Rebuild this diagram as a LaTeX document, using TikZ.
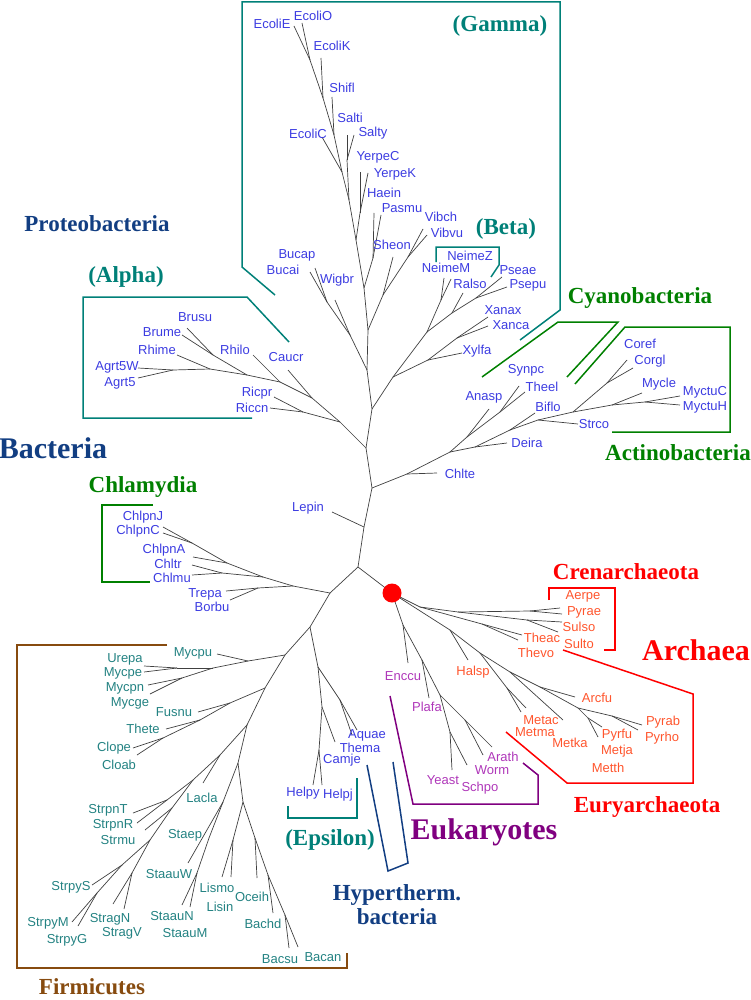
\documentclass[tikz,border=0pt]{standalone}
\usepackage{fontspec}
\setmainfont{Liberation Serif}
\newfontfamily\leaffont{Liberation Sans}
\definecolor{bactblue}{RGB}{60,60,225}
\definecolor{firmteal}{RGB}{35,130,130}
\definecolor{archred}{RGB}{255,85,45}
\definecolor{eukpurple}{RGB}{175,55,185}
\definecolor{navy}{RGB}{18,62,130}
\definecolor{tealgrp}{RGB}{0,128,120}
\definecolor{greengrp}{RGB}{0,128,0}
\definecolor{redgrp}{RGB}{255,0,0}
\definecolor{purplegrp}{RGB}{128,0,128}
\definecolor{browngrp}{RGB}{135,75,15}
\tikzset{
  leaf/.style={font=\leaffont\fontsize{13}{13}\selectfont,inner sep=0pt,text=bactblue},
  firm/.style={leaf,text=firmteal},
  arch/.style={leaf,text=archred},
  euk/.style={leaf,text=eukpurple},
  group/.style={font=\bfseries\fontsize{23}{24}\selectfont,inner sep=0pt,align=center},
  kingdom/.style={font=\bfseries\fontsize{30}{30}\selectfont,inner sep=0pt},
  bracket/.style={line width=1.5pt},
  branch/.style={draw=black!75,line width=0.7pt}
}
\begin{document}
\begin{tikzpicture}[x=1pt,y=-1pt]
  \useasboundingbox (0,0) rectangle (751,1000);
  % inner points of the tree
  \path
    (392,593) coordinate (root)
    (358,567) coordinate (b1)  (364,527) coordinate (b2)  (372,488) coordinate (b3)
    (366,448) coordinate (b4)  (372,409) coordinate (b5)  (367,370) coordinate (b6)
    (368,330) coordinate (b7)  (364,288) coordinate (b8)
    % gamma
    (356,240) coordinate (gA)  (349,200) coordinate (gB)  (342,172) coordinate (gC)
    (334,135) coordinate (gD)  (323,98) coordinate (gE)   (310,60) coordinate (gF)
    (347,160) coordinate (gS)  (360,213) coordinate (gY)  (373,258) coordinate (gH)
    (383,295) coordinate (gV)  (408,257) coordinate (gW)  (350,335) coordinate (bW)
    (327,302) coordinate (bB)
    % beta, xanthomonads
    (393,377) coordinate (bx0) (428,360) coordinate (bx1) (457,338) coordinate (xX)
    (427,332) coordinate (bb0) (441,300) coordinate (bN)  (452,313) coordinate (bb2)
    (476,298) coordinate (bP)
    % cyano, actino
    (407,474) coordinate (c0)  (450,452) coordinate (c1)  (467,437) coordinate (cyA)
    (500,412) coordinate (cyS) (475,447) coordinate (c2)  (510,430) coordinate (c3)
    (538,420) coordinate (a0)  (573,412) coordinate (a1)  (607,383) coordinate (aC)
    (612,405) coordinate (a2)  (645,402) coordinate (a3)
    % alpha
    (340,422) coordinate (al0) (303,412) coordinate (alR) (312,398) coordinate (al1)
    (280,382) coordinate (al2) (247,375) coordinate (al3) (213,355) coordinate (alB)
    (210,369) coordinate (al4) (173,370) coordinate (alA)
    % chlamydia, spirochetes
    (330,593) coordinate (ch0) (293,586) coordinate (ch1) (258,588) coordinate (sp)
    (263,577) coordinate (ch2) (227,563) coordinate (ch3) (192,543) coordinate (chP)
    (222,573) coordinate (chT)
    % epsilon, hyperthermophiles
    (310,627) coordinate (f0)  (318,667) coordinate (e0)  (322,707) coordinate (eH)
    (340,700) coordinate (eA)  (319,750) coordinate (eP)
    % firmicutes
    (285,655) coordinate (f1)  (248,661) coordinate (m0)  (213,668) coordinate (m1)
    (177,668) coordinate (mU)  (182,678) coordinate (mG)  (265,688) coordinate (f2)
    (230,703) coordinate (cl0) (200,720) coordinate (cl1) (163,738) coordinate (cl2)
    (247,725) coordinate (f3)  (220,755) coordinate (lc0) (193,780) coordinate (lc1)
    (167,800) coordinate (st1) (172,808) coordinate (st2) (150,840) coordinate (st3)
    (132,873) coordinate (sA)  (122,865) coordinate (sP)  (97,893) coordinate (sPG)
    (238,763) coordinate (bc0) (223,802) coordinate (sa0) (209,838) coordinate (sa1)
    (197,873) coordinate (sa2) (243,802) coordinate (li0) (233,840) coordinate (lis)
    (255,838) coordinate (ba0) (268,875) coordinate (ba1) (285,915) coordinate (ba2)
    % archaea, eukaryotes
    (420,607) coordinate (ar0) (458,612) coordinate (cr0) (482,624) coordinate (th0)
    (530,611) coordinate (cr1) (527,620) coordinate (cr2)
    (450,630) coordinate (eu0) (480,653) coordinate (eu1) (507,688) coordinate (mS)
    (510,672) coordinate (eu2) (540,687) coordinate (eu3) (578,708) coordinate (eu4)
    (612,716) coordinate (pY)  (588,718) coordinate (eu5)
    (403,625) coordinate (ek0) (422,660) coordinate (ek1) (440,695) coordinate (ek2)
    (450,732) coordinate (ekF) (465,720) coordinate (ekP);
  % branch tips
  \path
    (294,26) coordinate (tEcoliE) (302,23) coordinate (tEcoliO) (321,58) coordinate (tEcoliK)
    (332,97) coordinate (tShifl)  (347,135) coordinate (tSalti) (354,135) coordinate (tSalty)
    (322,137) coordinate (tEcoliC) (360,172) coordinate (tYerpeC) (368,173) coordinate (tYerpeK)
    (374,213) coordinate (tHaein) (381,215) coordinate (tPasmu) (393,257) coordinate (tSheon)
    (423,229) coordinate (tVibch) (427,235) coordinate (tVibvu) (315,268) coordinate (tBucap)
    (310,272) coordinate (tBucai) (335,300) coordinate (tWigbr)
    (462,353) coordinate (tXylfa) (488,317) coordinate (tXanax) (488,326) coordinate (tXanca)
    (444,278) coordinate (tNeimeM) (451,279) coordinate (tNeimeZ) (463,293) coordinate (tRalso)
    (502,277) coordinate (tPseae) (507,287) coordinate (tPsepu)
    (437,473) coordinate (tChlte) (489,409) coordinate (tAnasp) (519,386) coordinate (tSynpc)
    (525,392) coordinate (tTheel) (507,443) coordinate (tDeira) (535,413) coordinate (tBiflo)
    (578,424) coordinate (tStrco) (627,360) coordinate (tCoref) (633,368) coordinate (tCorgl)
    (642,393) coordinate (tMycle) (680,396) coordinate (tMyctuC) (680,405) coordinate (tMyctuH)
    (274,397) coordinate (tRicpr) (270,408) coordinate (tRiccn) (288,370) coordinate (tCaucr)
    (253,355) coordinate (tRhilo) (187,328) coordinate (tBrusu) (182,335) coordinate (tBrume)
    (177,355) coordinate (tRhime) (138,368) coordinate (tAgrtW) (138,378) coordinate (tAgrt)
    (332,512) coordinate (tLepin)
    (226,591) coordinate (tTrepa) (230,600) coordinate (tBorbu) (193,557) coordinate (tChlpnA)
    (163,527) coordinate (tChlpnJ) (163,533) coordinate (tChlpnC) (192,565) coordinate (tChltr)
    (192,575) coordinate (tChlmu)
    (357,730) coordinate (tAquae) (352,735) coordinate (tThema) (335,742) coordinate (tCamje)
    (313,785) coordinate (tHelpy) (322,785) coordinate (tHelpj)
    (217,654) coordinate (tMycpu) (144,666) coordinate (tUrepa) (144,672) coordinate (tMycpe)
    (148,685) coordinate (tMycpn) (150,694) coordinate (tMycge)
    (198,712) coordinate (tFusnu) (166,729) coordinate (tThete) (133,748) coordinate (tClope)
    (137,755) coordinate (tCloab) (203,783) coordinate (tLacla)
    (133,813) coordinate (tStrpnT) (137,823) coordinate (tStrpnR) (145,830) coordinate (tStrmu)
    (113,904) coordinate (tStragN) (124,909) coordinate (tStragV) (92,885) coordinate (tStrpyS)
    (72,922) coordinate (tStrpyM) (78,926) coordinate (tStrpyG)
    (188,863) coordinate (tStaauW) (182,905) coordinate (tStaauN)
    (190,907) coordinate (tStaauM) (222,877) coordinate (tLismo) (231,877) coordinate (tLisin)
    (257,878) coordinate (tOceih) (273,913) coordinate (tBachd) (289,948) coordinate (tBacsu)
    (298,947) coordinate (tBacan)
    (560,608) coordinate (tAerpe) (562,614) coordinate (tPyrae) (562,622) coordinate (tSulso)
    (558,632) coordinate (tSulto) (522,635) coordinate (tTheac) (518,640) coordinate (tThevo)
    (468,660) coordinate (tHalsp) (526,708) coordinate (tMetac) (521,712) coordinate (tMetma)
    (563,720) coordinate (tMetka) (575,697) coordinate (tArcfu) (642,725) coordinate (tPyrab)
    (638,730) coordinate (tPyrho) (602,727) coordinate (tPyrfu) (598,737) coordinate (tMetja)
    (408,663) coordinate (tEnccu) (429,698) coordinate (tPlafa) (452,770) coordinate (tYeast)
    (467,765) coordinate (tSchpo) (483,755) coordinate (tWorm) (492,747) coordinate (tArath);
  \begin{scope}[branch]
    \draw (root) to (b1);   \draw (b1) to (b2);   \draw (b2) to (b3);   \draw (b3) to (b4);
    \draw (b4) to (b5);     \draw (b5) to (b6);   \draw (b6) to (b7);   \draw (b7) to (b8);
    \draw (b2) to (tLepin); \draw (b1) to (ch0);
    \draw (b8) to (gH);     \draw (b8) to (gA);   \draw (gA) to (gY);   \draw (gA) to (gB);
    \draw (gB) to (gS);     \draw (gB) to (gC);   \draw (gC) to (tEcoliC); \draw (gC) to (gD);
    \draw (gD) to (tShifl); \draw (gD) to (gE);   \draw (gE) to (tEcoliK); \draw (gE) to (gF);
    \draw (gF) to (tEcoliE); \draw (gF) to (tEcoliO);
    \draw (gS) to (tSalti); \draw (gS) to (tSalty);
    \draw (gY) to (tYerpeC); \draw (gY) to (tYerpeK);
    \draw (gH) to (tHaein); \draw (gH) to (tPasmu);
    \draw (b7) to (gV);     \draw (gV) to (tSheon); \draw (gV) to (gW);
    \draw (gW) to (tVibch); \draw (gW) to (tVibvu);
    \draw (b6) to (bW);     \draw (bW) to (bB);   \draw (bW) to (tWigbr);
    \draw (bB) to (tBucai); \draw (bB) to (tBucap);
    \draw (b5) to (bx0);    \draw (bx0) to (bx1); \draw (bx0) to (bb0);
    \draw (bx1) to (tXylfa); \draw (bx1) to (xX); \draw (xX) to (tXanax); \draw (xX) to (tXanca);
    \draw (bb0) to (bN);    \draw (bb0) to (bb2); \draw (bN) to (tNeimeM); \draw (bN) to (tNeimeZ);
    \draw (bb2) to (tRalso); \draw (bb2) to (bP); \draw (bP) to (tPseae); \draw (bP) to (tPsepu);
    \draw (b3) to (c0);     \draw (c0) to (tChlte); \draw (c0) to (c1);
    \draw (c1) to (cyA);    \draw (cyA) to (tAnasp); \draw (cyA) to (cyS);
    \draw (cyS) to (tSynpc); \draw (cyS) to (tTheel);
    \draw (c1) to (c2);     \draw (c2) to (tDeira); \draw (c2) to (c3);
    \draw (c3) to (tBiflo); \draw (c3) to (a0);   \draw (a0) to (tStrco); \draw (a0) to (a1);
    \draw (a1) to (aC);     \draw (aC) to (tCoref); \draw (aC) to (tCorgl);
    \draw (a1) to (a2);     \draw (a2) to (tMycle); \draw (a2) to (a3);
    \draw (a3) to (tMyctuC); \draw (a3) to (tMyctuH);
    \draw (b4) to (al0);    \draw (al0) to (alR); \draw (al0) to (al1);
    \draw (alR) to (tRicpr); \draw (alR) to (tRiccn);
    \draw (al1) to (tCaucr); \draw (al1) to (al2); \draw (al2) to (tRhilo); \draw (al2) to (al3);
    \draw (al3) to (alB);   \draw (al3) to (al4); \draw (alB) to (tBrusu); \draw (alB) to (tBrume);
    \draw (al4) to (tRhime); \draw (al4) to (alA); \draw (alA) to (tAgrtW); \draw (alA) to (tAgrt);
    \draw (ch0) to (ch1);   \draw (ch1) to (sp);  \draw (ch1) to (ch2);
    \draw (sp) to (tTrepa); \draw (sp) to (tBorbu);
    \draw (ch2) to (ch3);   \draw (ch2) to (chT); \draw (ch3) to (chP); \draw (ch3) to (tChlpnA);
    \draw (chP) to (tChlpnJ); \draw (chP) to (tChlpnC);
    \draw (chT) to (tChltr); \draw (chT) to (tChlmu);
    \draw (ch0) to (f0);    \draw (f0) to (f1);   \draw (f0) to (e0);
    \draw (e0) to (eH);     \draw (e0) to (eA);   \draw (eA) to (tAquae); \draw (eA) to (tThema);
    \draw (eH) to (tCamje); \draw (eH) to (eP);   \draw (eP) to (tHelpy); \draw (eP) to (tHelpj);
    \draw (f1) to (m0);     \draw (m0) to (tMycpu); \draw (m0) to (m1);
    \draw (m1) to (mU);     \draw (m1) to (mG);
    \draw (mU) to (tUrepa); \draw (mU) to (tMycpe); \draw (mG) to (tMycpn); \draw (mG) to (tMycge);
    \draw (f1) to (f2);     \draw (f2) to (cl0);  \draw (cl0) to (tFusnu); \draw (cl0) to (cl1);
    \draw (cl1) to (tThete); \draw (cl1) to (cl2); \draw (cl2) to (tClope); \draw (cl2) to (tCloab);
    \draw (f2) to (f3);     \draw (f3) to (lc0);  \draw (lc0) to (tLacla); \draw (lc0) to (lc1);
    \draw (lc1) to (st1);   \draw (st1) to (tStrpnT); \draw (st1) to (tStrpnR);
    \draw (lc1) to (st2);   \draw (st2) to (tStrmu); \draw (st2) to (st3);
    \draw (st3) to (sA);    \draw (sA) to (tStragN); \draw (sA) to (tStragV);
    \draw (st3) to (sP);    \draw (sP) to (tStrpyS); \draw (sP) to (sPG);
    \draw (sPG) to (tStrpyM); \draw (sPG) to (tStrpyG);
    \draw (f3) to (bc0);    \draw (bc0) to (sa0); \draw (sa0) to (tStaauW); \draw (sa0) to (sa1);
    \draw (sa1) to (sa2);   \draw (sa2) to (tStaauN); \draw (sa2) to (tStaauM);
    \draw (bc0) to (li0);   \draw (li0) to (lis); \draw (lis) to (tLismo); \draw (lis) to (tLisin);
    \draw (li0) to (ba0);   \draw (ba0) to (tOceih); \draw (ba0) to (ba1);
    \draw (ba1) to (tBachd); \draw (ba1) to (ba2); \draw (ba2) to (tBacsu); \draw (ba2) to (tBacan);
    \draw (root) to (ar0);  \draw (ar0) to (cr0); \draw (ar0) to (th0);
    \draw (cr0) to (cr1);   \draw (cr0) to (cr2);
    \draw (cr1) to (tAerpe); \draw (cr1) to (tPyrae); \draw (cr2) to (tSulso); \draw (cr2) to (tSulto);
    \draw (th0) to (tTheac); \draw (th0) to (tThevo);
    \draw (root) to (eu0);  \draw (eu0) to (tHalsp); \draw (eu0) to (eu1);
    \draw (eu1) to (mS);    \draw (mS) to (tMetac); \draw (mS) to (tMetma);
    \draw (eu1) to (eu2);   \draw (eu2) to (tMetka); \draw (eu2) to (eu3);
    \draw (eu3) to (tArcfu); \draw (eu3) to (eu4); \draw (eu4) to (pY); \draw (eu4) to (eu5);
    \draw (pY) to (tPyrab); \draw (pY) to (tPyrho);
    \draw (eu5) to (tPyrfu); \draw (eu5) to (tMetja);
    \draw (root) to (ek0);  \draw (ek0) to (tEnccu); \draw (ek0) to (ek1);
    \draw (ek1) to (tPlafa); \draw (ek1) to (ek2); \draw (ek2) to (ekF); \draw (ek2) to (ekP);
    \draw (ekF) to (tYeast); \draw (ekF) to (tSchpo);
    \draw (ekP) to (tWorm); \draw (ekP) to (tArath);
  \end{scope}
  \node[circle,fill=red,minimum size=19pt,inner sep=0pt] (rootdot) at (root) {};
  % leaf names
  \path[leaf]
    (272,24) node (EcoliE) {EcoliE}   (313,16) node (EcoliO) {EcoliO}
    (332,46) node (EcoliK) {EcoliK}   (342,88) node (Shifl) {Shifl}
    (350,118) node (Salti) {Salti}    (373,133) node (Salty) {Salty}
    (308,134) node (EcoliC) {EcoliC}  (378,157) node (YerpeC) {YerpeC}
    (395,174) node (YerpeK) {YerpeK}  (384,193) node (Haein) {Haein}
    (402,208) node (Pasmu) {Pasmu}    (392,245) node (Sheon) {Sheon}
    (441,217) node (Vibch) {Vibch}    (447,233) node (Vibvu) {Vibvu}
    (297,255) node (Bucap) {Bucap}    (283,270) node (Bucai) {Bucai}
    (337,280) node (Wigbr) {Wigbr}
    (477,351) node (Xylfa) {Xylfa}    (503,310) node (Xanax) {Xanax}
    (511,325) node (Xanca) {Xanca}    (470,284) node (Ralso) {Ralso}
    (518,270) node (Pseae) {Pseae}    (528,285) node (Psepu) {Psepu}
    (470,256) node (NeimeZ) {NeimeZ}  (446,268) node (NeimeM) {NeimeM}
    (460,474) node (Chlte) {Chlte}    (527,443) node (Deira) {Deira}
    (484,397) node (Anasp) {Anasp}    (526,370) node (Synpc) {Synpc}
    (542,387) node (Theel) {Theel}    (548,407) node (Biflo) {Biflo}
    (594,424) node (Strco) {Strco}    (640,344) node (Coref) {Coref}
    (650,361) node (Corgl) {Corgl}    (659,384) node (Mycle) {Mycle}
    (705,392) node (MyctuC) {MyctuC}  (705,407) node (MyctuH) {MyctuH}
    (257,393) node (Ricpr) {Ricpr}    (252,408) node (Riccn) {Riccn}
    (286,357) node (Caucr) {Caucr}    (235,350) node (Rhilo) {Rhilo}
    (195,317) node (Brusu) {Brusu}    (162,332) node (Brume) {Brume}
    (157,350) node (Rhime) {Rhime}    (117,367) node (Agrt5W) {Agrt5W}
    (120,383) node (Agrt5) {Agrt5}    (308,508) node (Lepin) {Lepin}
    (143,517) node (ChlpnJ) {ChlpnJ}  (138,531) node (ChlpnC) {ChlpnC}
    (164,550) node (ChlpnA) {ChlpnA}  (168,564) node (Chltr) {Chltr}
    (172,578) node (Chlmu) {Chlmu}    (205,594) node (Trepa) {Trepa}
    (212,607) node (Borbu) {Borbu}
    (367,735) node (Aquae) {Aquae}    (360,748) node (Thema) {Thema}
    (342,760) node (Camje) {Camje}    (303,793) node (Helpy) {Helpy}
    (338,795) node (Helpj) {Helpj};
  \path[firm]
    (193,653) node (Mycpu) {Mycpu}    (125,659) node (Urepa) {Urepa}
    (123,673) node (Mycpe) {Mycpe}    (125,688) node (Mycpn) {Mycpn}
    (130,703) node (Mycge) {Mycge}    (174,712) node (Fusnu) {Fusnu}
    (143,729) node (Thete) {Thete}    (114,748) node (Clope) {Clope}
    (119,765) node (Cloab) {Cloab}    (202,798) node (Lacla) {Lacla}
    (108,810) node (StrpnT) {StrpnT}  (113,825) node (StrpnR) {StrpnR}
    (118,840) node (Strmu) {Strmu}    (71,887) node (StrpyS) {StrpyS}
    (48,923) node (StrpyM) {StrpyM}   (67,940) node (StrpyG) {StrpyG}
    (110,919) node (StragN) {StragN}  (122,933) node (StragV) {StragV}
    (185,835) node (Staep) {Staep}    (169,874) node (StaauW) {StaauW}
    (172,916) node (StaauN) {StaauN}  (185,933) node (StaauM) {StaauM}
    (217,888) node (Lismo) {Lismo}    (220,907) node (Lisin) {Lisin}
    (252,897) node (Oceih) {Oceih}    (263,924) node (Bachd) {Bachd}
    (280,959) node (Bacsu) {Bacsu}    (323,957) node (Bacan) {Bacan};
  \path[arch]
    (583,596) node (Aerpe) {Aerpe}    (584,612) node (Pyrae) {Pyrae}
    (579,627) node (Sulso) {Sulso}    (579,644) node (Sulto) {Sulto}
    (542,638) node (Theac) {Theac}    (536,653) node (Thevo) {Thevo}
    (473,672) node (Halsp) {Halsp}    (597,698) node (Arcfu) {Arcfu}
    (541,720) node (Metac) {Metac}    (535,732) node (Metma) {Metma}
    (570,743) node (Metka) {Metka}    (617,735) node (Pyrfu) {Pyrfu}
    (617,751) node (Metja) {Metja}    (608,768) node (Metth) {Metth}
    (663,722) node (Pyrab) {Pyrab}    (662,738) node (Pyrho) {Pyrho};
  \path[euk]
    (403,676) node (Enccu) {Enccu}    (427,707) node (Plafa) {Plafa}
    (443,780) node (Yeast) {Yeast}    (480,788) node (Schpo) {Schpo}
    (492,770) node (Worm) {Worm}      (503,757) node (Arath) {Arath};
  % group brackets
  \draw[bracket,tealgrp] (275,295) -- (242,267) -- (242,2) -- (560,2) -- (560,310) -- (520,340);
  \draw[bracket,tealgrp] (289,342) -- (247,297) -- (83,297) -- (83,418) -- (252,418);
  \draw[bracket,tealgrp] (436,262) -- (436,247) -- (499,247) -- (499,265) -- (491,277);
  \draw[bracket,greengrp] (482,377) -- (558,322) -- (618,322) -- (567,377);
  \draw[bracket,greengrp] (575,384) -- (625,327) -- (730,327) -- (730,432) -- (612,432);
  \draw[bracket,greengrp] (153,505) -- (102,505) -- (102,582) -- (150,582);
  \draw[bracket,redgrp] (549,600) -- (549,588) -- (615,588) -- (615,650) -- (604,650);
  \draw[bracket,redgrp] (563,650) -- (693,694) -- (693,783) -- (567,783) -- (506,732);
  \draw[bracket,purplegrp] (390,696) -- (413,804) -- (538,804) -- (538,775) -- (523,763);
  \draw[bracket,tealgrp] (288,806) -- (288,818) -- (357,818) -- (357,778);
  \draw[bracket,navy] (367,765) -- (388,871) -- (408,863) -- (393,762);
  \draw[bracket,browngrp] (167,645) -- (17,645) -- (17,968) -- (347,968) -- (347,953);
  % group names
  \node[group,text=tealgrp] (gamma) at (500,26) {(Gamma)};
  \node[group,text=navy] (proteo) at (97,224) {Proteobacteria};
  \node[group,text=tealgrp] (beta) at (506,229) {(Beta)};
  \node[group,text=tealgrp] (alpha) at (126,277) {(Alpha)};
  \node[group,text=greengrp] (cyano) at (640,298) {Cyanobacteria};
  \node[kingdom,text=navy] (bacteria) at (53,448) {Bacteria};
  \node[group,text=greengrp] (actino) at (678,453) {Actinobacteria};
  \node[group,text=greengrp] (chlamydia) at (143,487) {Chlamydia};
  \node[group,text=redgrp] (crenarch) at (626,572) {Crenarchaeota};
  \node[kingdom,text=redgrp] (archaea) at (696,650) {Archaea};
  \node[group,text=redgrp] (euryarch) at (647,807) {Euryarchaeota};
  \node[kingdom,text=purplegrp] (eukaryotes) at (484,832) {Eukaryotes};
  \node[group,text=tealgrp] (epsilon) at (330,840) {(Epsilon)};
  \node[group,text=navy] (hypertherm) at (397,905) {Hypertherm.\\bacteria};
  \node[group,text=browngrp] (firmicutes) at (92,987) {Firmicutes};
\end{tikzpicture}
\end{document}
